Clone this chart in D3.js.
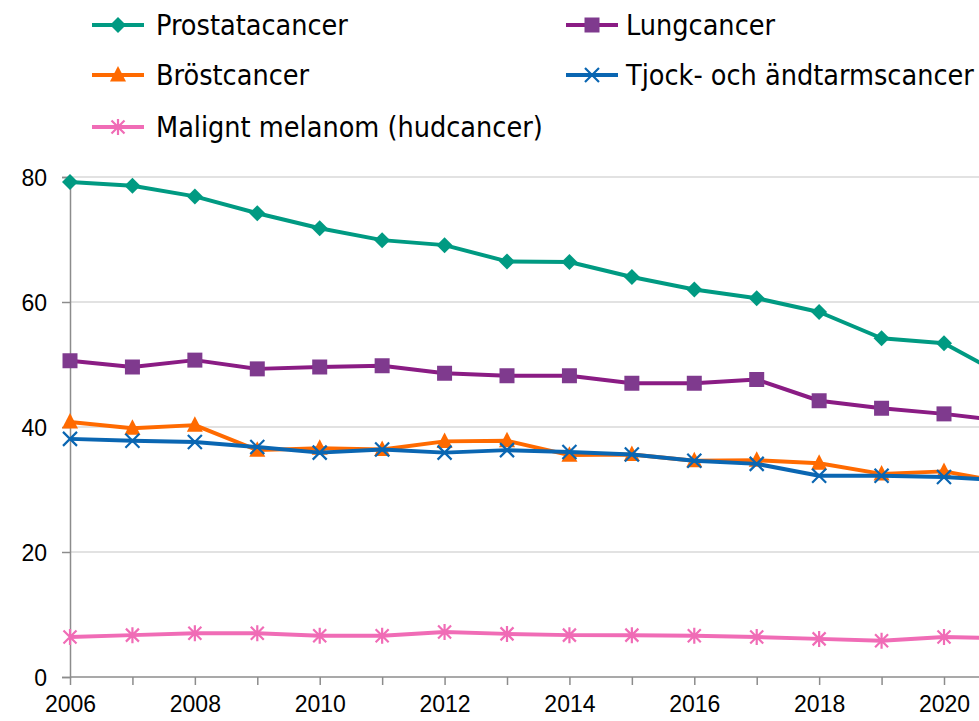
<!DOCTYPE html>
<html>
<head>
<meta charset="utf-8">
<script src="https://cdn.jsdelivr.net/npm/d3@7"></script>
<style>
  body { margin: 0; background: #fff; }
  svg { display: block; font-family: "DejaVu Sans Condensed", "DejaVu Sans", sans-serif; font-stretch: condensed; }
</style>
</head>
<body>
<div id="chart"></div>
<script>
// data
var years = [2006, 2007, 2008, 2009, 2010, 2011, 2012, 2013, 2014, 2015, 2016, 2017, 2018, 2019, 2020, 2021];
var prostata = [79.2, 78.6, 76.9, 74.2, 71.8, 69.9, 69.1, 66.5, 66.4, 64.0, 62.0, 60.6, 58.4, 54.2, 53.4, 48.0];
var lunga = [50.6, 49.6, 50.7, 49.3, 49.6, 49.8, 48.6, 48.2, 48.2, 47.0, 47.0, 47.6, 44.2, 43.0, 42.1, 40.9];
var brost = [40.8, 39.8, 40.3, 36.3, 36.6, 36.4, 37.7, 37.8, 35.5, 35.6, 34.6, 34.7, 34.2, 32.5, 32.9, 31.1];
var tjock = [38.1, 37.8, 37.6, 36.8, 35.9, 36.4, 35.9, 36.3, 36.0, 35.6, 34.6, 34.1, 32.2, 32.2, 32.0, 31.4];
var melanom = [6.4, 6.7, 7.0, 7.0, 6.6, 6.6, 7.2, 6.9, 6.7, 6.7, 6.6, 6.4, 6.1, 5.8, 6.4, 6.2];
var yTicks = [0, 20, 40, 60, 80];
var xTickLabels = [2006, 2008, 2010, 2012, 2014, 2016, 2018, 2020];

var series = [
    {name: "Prostatacancer", values: prostata, color: "#009a82", marker: "diamond"},
    {name: "Lungcancer", values: lunga, color: "#8a1c84", fill: "#7f3a8e", marker: "square"},
    {name: "Bröstcancer", values: brost, color: "#ff6a00", marker: "triangle"},
    {name: "Tjock- och ändtarmscancer", values: tjock, color: "#0a66b2", marker: "x"},
    {name: "Malignt melanom (hudcancer)", values: melanom, color: "#f06cb6", marker: "star"}
];

var W = 979, H = 721;
var svg = d3.select("#chart").append("svg")
    .attr("width", W)
    .attr("height", H);

var x = d3.scaleLinear().domain([2006, 2020]).range([70, 944]);
var y = d3.scaleLinear().domain([0, 80]).range([677, 177]);

// gridlines
svg.append("g")
    .selectAll("line")
    .data(yTicks.filter(function(d){ return d > 0; }))
    .enter().append("line")
    .attr("x1", 70).attr("x2", W)
    .attr("y1", function(d){ return y(d); })
    .attr("y2", function(d){ return y(d); })
    .attr("stroke", "#d9d9d9")
    .attr("stroke-width", 1.5);

var yAxis = d3.axisLeft(y).tickValues(yTicks).tickSize(8).tickPadding(15).tickFormat(d3.format("d"));
var gy = svg.append("g").attr("transform", "translate(70,0)").call(yAxis);
gy.select(".domain").attr("stroke", "#8c8c8c").attr("stroke-width", 1.5);
gy.selectAll(".tick line").attr("stroke", "#8c8c8c").attr("stroke-width", 1.5);
gy.selectAll("text").attr("font-size", 23).attr("fill", "#000").attr("font-family", null).attr("dy", "0.35em");

var xAxis = d3.axisBottom(x).tickValues(d3.range(2006, 2022)).tickSize(8).tickPadding(11)
    .tickFormat(function(d){ return xTickLabels.indexOf(d) >= 0 ? d : ""; });
var gx = svg.append("g").attr("transform", "translate(0,677)").call(xAxis);
gx.select(".domain").attr("stroke", "#8c8c8c").attr("stroke-width", 1.5).attr("d", "M70,0H" + W);
gx.selectAll(".tick line").attr("stroke", "#8c8c8c").attr("stroke-width", 1.5);
gx.selectAll("text").attr("font-size", 23).attr("fill", "#000").attr("font-family", null);

function markerPath(type) {
    if (type == "diamond") return "M0,-8L8,0L0,8L-8,0Z";
    if (type == "square") return "M-7.5,-7.5H7.5V7.5H-7.5Z";
    if (type == "triangle") return "M0,-9L8,6.5H-8Z";
    if (type == "x") return "M-7,-7L7,7M-7,7L7,-7";
    // asterisk
    return "M-6.5,-6.5L6.5,6.5M-6.5,6.5L6.5,-6.5M0,-8V8";
}

function drawMarker(g, d, cx, cy) {
    var p = g.append("path")
        .attr("transform", "translate(" + cx + "," + cy + ")")
        .attr("d", markerPath(d.marker));
    if (d.marker == "x" || d.marker == "star") {
        p.attr("fill", "none").attr("stroke", d.color).attr("stroke-width", 2.2);
    } else {
        p.attr("fill", d.fill || d.color).attr("stroke", "none");
    }
}

var line = d3.line()
    .x(function(d, i){ return x(years[i]); })
    .y(function(d){ return y(d); });

var plot = svg.append("g");
series.forEach(function(s) {
    var g = plot.append("g");
    g.append("path")
        .attr("d", line(s.values))
        .attr("fill", "none")
        .attr("stroke", s.color)
        .attr("stroke-width", 4)
        .attr("stroke-linejoin", "round");
    s.values.forEach(function(v, i) {
        drawMarker(g, s, x(years[i]), y(v));
    });
});

// legend
var legendPos = [
    {x: 92, y: 25}, {x: 566, y: 25},
    {x: 92, y: 75}, {x: 566, y: 75},
    {x: 92, y: 127}
];
series.forEach(function(s, i) {
    var p = legendPos[i];
    var g = svg.append("g");
    g.append("line")
        .attr("x1", p.x).attr("x2", p.x + 52)
        .attr("y1", p.y).attr("y2", p.y)
        .attr("stroke", s.color)
        .attr("stroke-width", 4);
    drawMarker(g, s, p.x + 26, p.y);
    g.append("text")
        .attr("x", p.x + (i % 2 == 0 ? 64 : 60))
        .attr("y", p.y)
        .attr("dy", "0.36em")
        .attr("font-size", 28.5)
        .attr("fill", "#000")
        .text(s.name);
});
</script>
</body>
</html>
